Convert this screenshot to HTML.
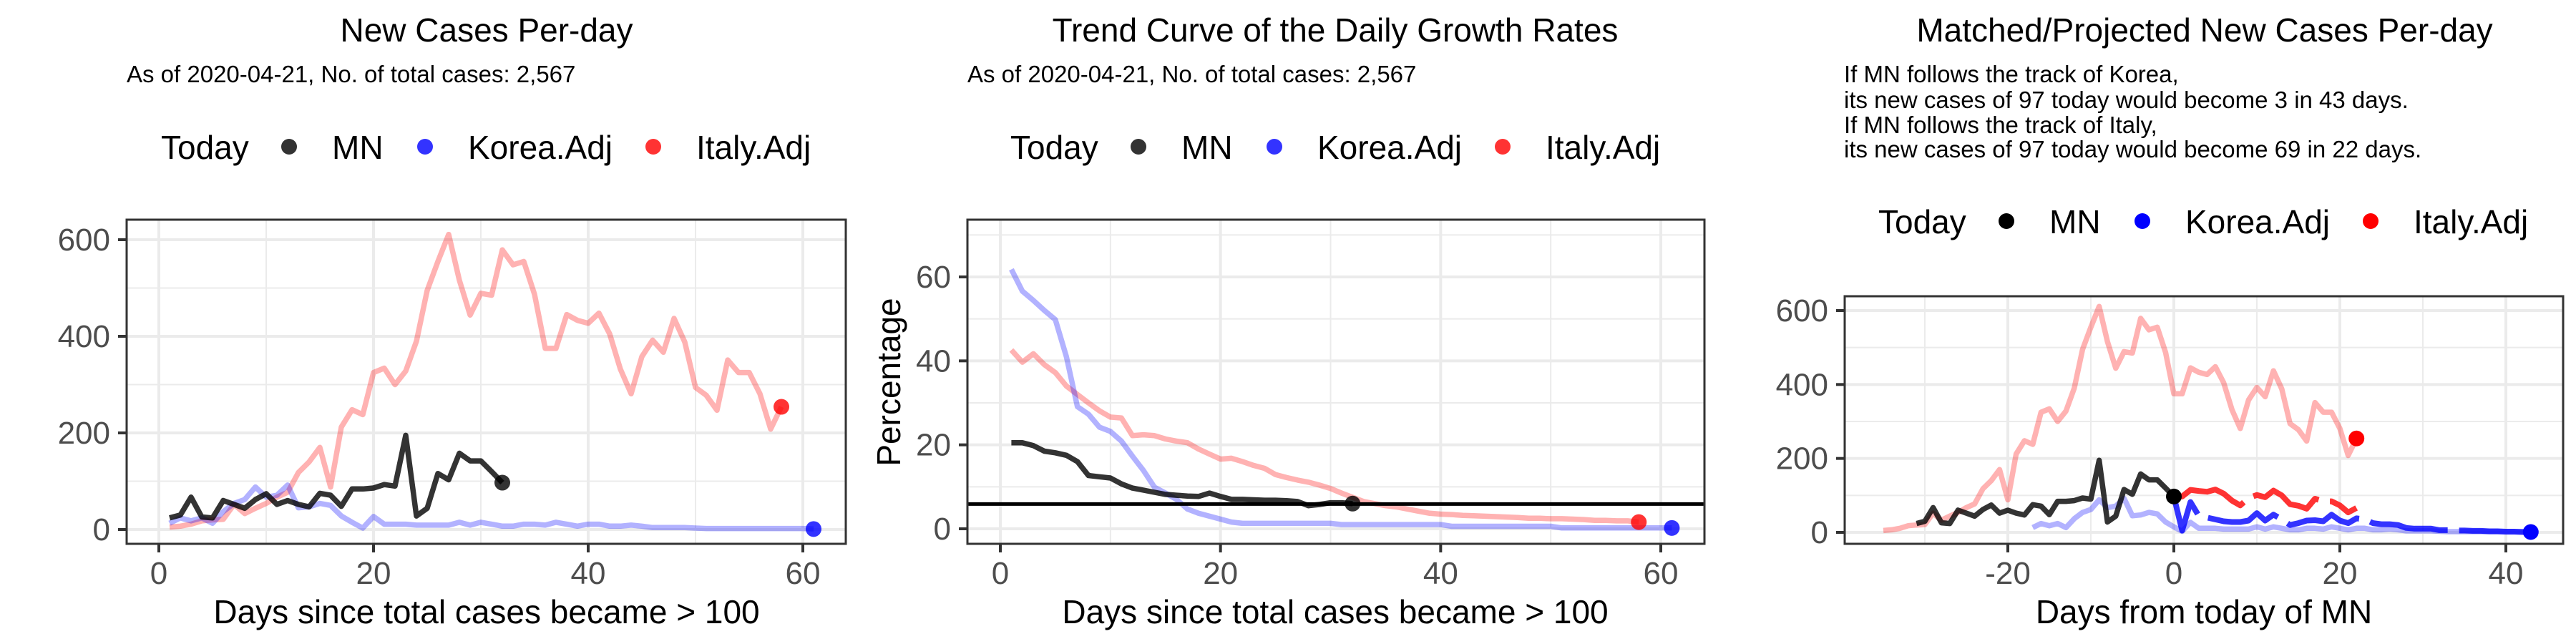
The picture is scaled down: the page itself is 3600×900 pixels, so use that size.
<!DOCTYPE html>
<html><head><meta charset="utf-8"><style>
html,body{margin:0;padding:0;background:#fff;}
svg{display:block;font-family:"Liberation Sans",Arial,sans-serif;}
</style></head><body>
<svg id="chart" width="3600" height="900" viewBox="0 0 3600 900" xmlns="http://www.w3.org/2000/svg"></svg>
<script>
// ---- data ----
const mnCases = [24,30,67,26,24,60,52,44,62,74,52,60,52,47,75,71,48,84,84,86,93,90,195,28,44,116,103,158,142,142,120,97];
const koreaCases = [13,24,18,24,13,37,54,62,88,67,71,92,45,47,54,50,28,15,3,27,11,11,11,9,9,9,9,15,9,15,11,7,7,11,11,9,15,11,7,11,11,7,7,9,7,4,4,4,4,3,2,2,2,2,2,2,2,2,2,2,1];
const italyCases = [5,7,11,18,20,21,52,33,44,54,67,77,118,140,170,88,212,248,238,325,334,300,328,390,495,555,611,516,444,489,485,579,548,555,487,375,375,445,433,427,448,405,332,281,358,392,367,437,388,294,278,247,351,325,325,281,208,254];
const mnRate = [20.5,20.5,19.8,18.5,18.1,17.5,16,12.7,12.4,12.1,10.7,9.7,9.2,8.7,8.2,8,7.8,7.7,8.5,7.7,7,7,6.9,6.8,6.8,6.7,6.5,5.5,5.8,6.2,6.2,6.0];
const italyRate = [42.6,39.7,41.7,39.1,37.2,34,32,30,28.1,26.6,26.4,22.2,22.4,22.2,21.4,20.9,20.5,19,17.8,16.6,16.8,16,15.1,14.4,12.9,12.2,11.6,11.1,10.4,9.6,8.5,7.5,6.5,6,5.5,5.2,4.7,4.2,3.7,3.5,3.4,3.2,3.1,3,2.9,2.8,2.7,2.5,2.5,2.4,2.4,2.3,2.2,2,2,1.9,1.9,1.6];
const koreaRate = [61.8,56.6,54.4,52,49.8,41,29.1,27.3,24.2,23.2,20.9,17.3,13.9,9.9,8.5,7,4.7,3.7,3,2.3,1.6,1.3,1.3,1.3,1.3,1.3,1.3,1.3,1.3,1.3,1,1,1,1,1,1,1,1,1,1,0.6,0.6,0.6,0.6,0.6,0.6,0.6,0.6,0.6,0.6,0.2,0.2,0.2,0.2,0.2,0.2,0.2,0.2,0.2,0.2,0.2];
const rateThreshold = 5.9;
const italyProj = [97,97,115,112,110,116,105,86,73,93,101,95,113,100,76,72,64,91,84,84,73,54,66];
const koreaProj = [97,5,82,45,40,35,30,28,28,32,52,32,48,35,20,25,32,33,30,48,32,25,38,35,25,22,22,20,12,10,10,10,6,6,5,5,4,4,3,3,2,2,1,1];
const mnShift = -32, koreaShift = -18, italyShift = -36;
const casesTicks = [0,200,400,600], casesMinor = [100,300,500];
const rateTicks = [0,20,40,60], rateMinor = [10,30,50,70];
const dayTicks = [0,20,40,60], dayMinor = [10,30,50];
const relTicks = [-20,0,20,40], relMinor = [-30,-10,10,30];

const NS = "http://www.w3.org/2000/svg";
const svg = document.getElementById('chart');
function el(tag, attrs, parent){ const e=document.createElementNS(NS,tag); for(const k in attrs) e.setAttribute(k,attrs[k]); (parent||svg).appendChild(e); return e; }
function text(parent,x,y,s,size,anchor,fill,name){
  const t=el('text',{x:x,y:y,'font-size':size,'text-anchor':anchor||'start',fill:fill||'#000'},parent);
  t.textContent=s;
  
  
  return t;
}
function lin(d0,d1,r0,r1){ return v=> r0+(v-d0)*(r1-r0)/(d1-d0); }

function panel(cfg){
  const g=el('g',{});
  
  
  const {L,R,T,B,sx,sy}=cfg;
  el('rect',{x:L,y:T,width:R-L,height:B-T,fill:'#fff'},g);
  cfg.yMinor.forEach(v=>{const y=sy(v); if(y>T&&y<B) el('line',{x1:L,x2:R,y1:y,y2:y,stroke:'#ebebeb','stroke-width':2},g);});
  cfg.xMinor.forEach(v=>{const x=sx(v); if(x>L&&x<R) el('line',{x1:x,x2:x,y1:T,y2:B,stroke:'#ebebeb','stroke-width':2},g);});
  cfg.yTicks.forEach(v=>{const y=sy(v); el('line',{x1:L,x2:R,y1:y,y2:y,stroke:'#ebebeb','stroke-width':4},g);
    el('line',{x1:L-12,x2:L,y1:y,y2:y,stroke:'#333','stroke-width':4},g);
    text(g,L-23,y+15,String(v),44,'end','#4d4d4d','y-tick-label');});
  cfg.xTicks.forEach(v=>{const x=sx(v); el('line',{x1:x,x2:x,y1:T,y2:B,stroke:'#ebebeb','stroke-width':4},g);
    el('line',{x1:x,x2:x,y1:B,y2:B+12,stroke:'#333','stroke-width':4},g);
    text(g,x,B+56,String(v),44,'middle','#4d4d4d','x-tick-label');});
  return g;
}
function series(g,vals,xOf,sx,sy,color,op,w,name,dash){
  let d='';
  vals.forEach((v,i)=>{ d+=(i?'L':'M')+sx(xOf(i)).toFixed(1)+','+sy(v).toFixed(1); });
  const p=el('path',{d:d,fill:'none',stroke:color,'stroke-opacity':op,'stroke-width':w,'stroke-linejoin':'round'},g);
  if(dash) p.setAttribute('stroke-dasharray',dash);
  
  
  return p;
}
function dot(g,x,y,color,op,name){
  const c=el('circle',{cx:x,cy:y,r:11,fill:color,'fill-opacity':op},g);
  
  
}
function legend(ox,cy,op){
  const g=el('g',{});
  
  
  text(g,ox,cy+17,'Today',46,'start','#000','legend-title');
  const items=[['MN','#000',179,239],['Korea.Adj','#0000ff',369,429],['Italy.Adj','#ff0000',688,748]];
  items.forEach(it=>{ dot(g,ox+it[2],cy,it[1],op,'legend-key-'+it[0].toLowerCase());
    text(g,ox+it[3],cy+17,it[0],46,'start','#000','legend-entry-'+it[0].toLowerCase()); });
}

// ---- Panel 1 ----
{
  const L=177,R=1182,T=307,B=760;
  const sx=lin(0,60,222,1122), sy=lin(0,600,740,335);
  const g=panel({name:'new-cases-panel',L,R,T,B,sx,sy,yTicks:casesTicks,yMinor:casesMinor,xTicks:dayTicks,xMinor:dayMinor});
  text(svg,680,58,'New Cases Per-day',46,'middle','#000','chart-title-new-cases');
  text(svg,177,115,'As of 2020-04-21, No. of total cases: 2,567',33,'start','#000','subtitle-new-cases');
  legend(225,205,0.8);
  series(g,italyCases,i=>i+1,sx,sy,'#ff0000',0.3,7.5,'line-italy');
  series(g,koreaCases,i=>i+1,sx,sy,'#0000ff',0.3,7.5,'line-korea');
  series(g,mnCases,i=>i+1,sx,sy,'#000',0.8,7.5,'line-mn');
  dot(g,sx(mnCases.length),sy(mnCases[mnCases.length-1]),'#000',0.8,'point-mn-today');
  dot(g,sx(italyCases.length),sy(italyCases[italyCases.length-1]),'#ff0000',0.8,'point-italy-today');
  dot(g,sx(koreaCases.length),sy(koreaCases[koreaCases.length-1]),'#0000ff',0.8,'point-korea-today');
  el('rect',{x:L,y:T,width:R-L,height:B-T,fill:'none',stroke:'#333','stroke-width':3},g);
  text(svg,680,871,'Days since total cases became > 100',46,'middle','#000','x-axis-title-1');
}
// ---- Panel 2 ----
{
  const L=1352,R=2382,T=307,B=760;
  const sx=lin(0,60,1398,2321), sy=lin(0,60,739,387);
  const g=panel({name:'growth-rate-panel',L,R,T,B,sx,sy,yTicks:rateTicks,yMinor:rateMinor,xTicks:dayTicks,xMinor:dayMinor});
  text(svg,1866,58,'Trend Curve of the Daily Growth Rates',46,'middle','#000','chart-title-growth');
  text(svg,1352,115,'As of 2020-04-21, No. of total cases: 2,567',33,'start','#000','subtitle-growth');
  legend(1412,205,0.8);
  series(g,italyRate,i=>i+1,sx,sy,'#ff0000',0.3,7.5,'line-italy-rate');
  series(g,koreaRate,i=>i+1,sx,sy,'#0000ff',0.3,7.5,'line-korea-rate');
  series(g,mnRate,i=>i+1,sx,sy,'#000',0.8,7.5,'line-mn-rate');
  const hl=el('line',{x1:L,x2:R,y1:sy(rateThreshold),y2:sy(rateThreshold),stroke:'#000','stroke-width':5},g);
  
  
  dot(g,sx(mnRate.length),sy(mnRate[mnRate.length-1]),'#000',0.8,'point-mn-rate');
  dot(g,sx(italyRate.length),sy(italyRate[italyRate.length-1]),'#ff0000',0.8,'point-italy-rate');
  dot(g,sx(koreaRate.length),sy(koreaRate[koreaRate.length-1]),'#0000ff',0.8,'point-korea-rate');
  el('rect',{x:L,y:T,width:R-L,height:B-T,fill:'none',stroke:'#333','stroke-width':3},g);
  text(svg,1866,871,'Days since total cases became > 100',46,'middle','#000','x-axis-title-2');
  const yt=text(svg,0,0,'Percentage',46,'middle','#000','y-axis-title-2');
  yt.setAttribute('transform','translate(1258,534) rotate(-90)');
}
// ---- Panel 3 ----
{
  const L=2578,R=3582,T=414,B=760;
  const sx=lin(0,40,3038,3502), sy=lin(0,600,744,434);
  const g=panel({name:'projection-panel',L,R,T,B,sx,sy,yTicks:casesTicks,yMinor:casesMinor,xTicks:relTicks,xMinor:relMinor});
  text(svg,3081,58,'Matched/Projected New Cases Per-day',46,'middle','#000','chart-title-projection');
  const lines=['If MN follows the track of Korea,','its new cases of 97 today would become 3 in 43 days.','If MN follows the track of Italy,','its new cases of 97 today would become 69 in 22 days.'];
  const by=[115,151,186,220];
  lines.forEach((s,i)=>text(svg,2577,by[i],s,33,'start','#000','projection-note'));
  legend(2625,309,1);
  series(g,italyCases,i=>i+1+italyShift,sx,sy,'#ff0000',0.3,7.5,'line-italy-matched');
  series(g,koreaCases,i=>i+1+koreaShift,sx,sy,'#0000ff',0.3,7.5,'line-korea-matched');
  series(g,mnCases,i=>i+1+mnShift,sx,sy,'#000',0.8,7.5,'line-mn-matched');
  series(g,italyProj,i=>i,sx,sy,'#ff0000',0.8,8,'line-italy-projected','110 16');
  series(g,koreaProj,i=>i,sx,sy,'#0000ff',0.8,8,'line-korea-projected','110 16');
  dot(g,sx(0),sy(mnCases[mnCases.length-1]),'#000',1,'point-mn-today-3');
  dot(g,sx(italyProj.length-1),sy(italyCases[italyCases.length-1]),'#ff0000',1,'point-italy-end');
  dot(g,sx(koreaProj.length-1),sy(koreaCases[koreaCases.length-1]),'#0000ff',1,'point-korea-end');
  el('rect',{x:L,y:T,width:R-L,height:B-T,fill:'none',stroke:'#333','stroke-width':3},g);
  text(svg,3080,871,'Days from today of MN',46,'middle','#000','x-axis-title-3');
}
</script>
</body></html>
